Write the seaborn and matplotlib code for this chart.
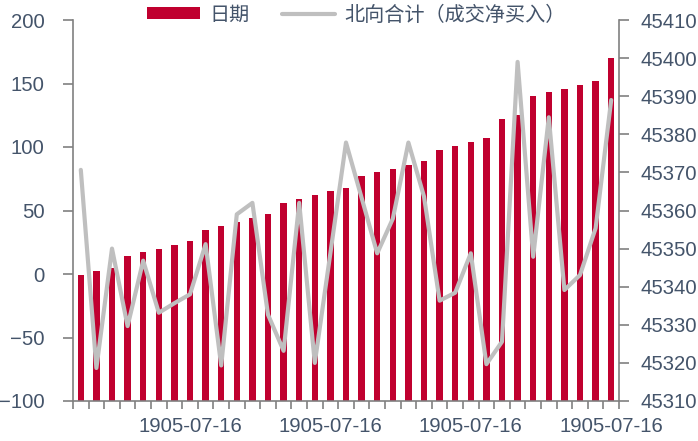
import matplotlib
matplotlib.use("Agg")
import matplotlib.pyplot as plt
import seaborn as sns
import pandas as pd
import numpy as np
from matplotlib.patches import Patch
from matplotlib.lines import Line2D
from matplotlib.ticker import FuncFormatter

# ---- data ----
dates = [45343, 45344, 45345, 45348, 45349, 45350, 45351, 45352, 45355, 45356,
         45357, 45358, 45359, 45362, 45363, 45364, 45365, 45366, 45369, 45370,
         45371, 45372, 45373, 45376, 45377, 45378, 45379, 45384, 45385, 45390,
         45391, 45392, 45393, 45394, 45400]
northbound = [82, -74, 20, -41, 10.5, -30.5, -23, -16, 23.5, -72,
              47, 56, -32, -60.5, 56, -70, 16.5, 103.5, 60, 16.3,
              43.5, 103.5, 61, -21, -14.7, 16.3, -71, -53.3, 167, 13.6,
              123.4, -12.6, -0.8, 36, 137]
label_positions = [7, 16, 25, 34]
label_texts = ["1905-07-16", "1905-07-16", "1905-07-16", "1905-07-16"]
bar_label = "日期"
line_label = "北向合计（成交净买入）"
left_ticks = [-100, -50, 0, 50, 100, 150, 200]
right_ticks = [45310, 45320, 45330, 45340, 45350, 45360, 45370, 45380, 45390, 45400, 45410]

RED = "#C0002F"
GRAY = "#BFBFBF"
TEXT = "#44546A"
SPINE = "#808080"
FS = 14.6

sns.set_style("white")
plt.rcParams['font.family'] = ['Liberation Sans', 'Noto Sans CJK SC', 'DejaVu Sans']

n = len(dates)
df = pd.DataFrame({"idx": np.arange(n), "date": dates, "flow": northbound})

fig = plt.figure(figsize=(6.98, 4.41), dpi=100)
ax = fig.add_axes([73/698, 1 - 401/441, (619 - 73)/698, (401 - 20)/441])
ax2 = ax.twinx()

sns.barplot(data=df, x="idx", y="date", ax=ax2, color=RED, saturation=1,
            width=0.42, linewidth=0, edgecolor="none")
sns.lineplot(data=df, x="idx", y="flow", ax=ax, color=GRAY, lw=3)

ax.set_zorder(ax2.get_zorder() + 1)
ax.patch.set_visible(False)

ax.set_xlim(-0.5, n - 0.5)
ax.set_ylim(-100, 200)
ax2.set_ylim(45310, 45410)
ax.set_yticks(left_ticks)
ax2.set_yticks(right_ticks)
ax2.yaxis.set_major_formatter(FuncFormatter(lambda v, p: f"{v:.0f}"))
ax.set_xlabel(""); ax.set_ylabel(""); ax2.set_ylabel(""); ax2.set_xlabel("")

# x ticks: boundaries as major ticks, labels as minor
ax.set_xticks(np.arange(-0.5, n, 1))
ax.set_xticks(label_positions, minor=True)
ax.set_xticklabels(label_texts, minor=True)
ax.tick_params(axis='x', which='major', bottom=True, length=6, width=1.2,
               color=SPINE, labelbottom=False, direction='out')
ax.tick_params(axis='x', which='minor', bottom=True, length=0, pad=11.5,
               labelsize=FS, labelcolor=TEXT, labelbottom=True)

ax.tick_params(axis='y', left=True, right=False, length=7, width=1.2, color=SPINE,
               labelsize=FS, labelcolor=TEXT, pad=13.5, direction='out')
ax2.tick_params(axis='y', right=True, left=False, length=7, width=1.2, color=SPINE,
                labelsize=FS, labelcolor=TEXT, pad=8.5, direction='out')

for s in ["top", "right"]:
    ax.spines[s].set_visible(False)
for s in ["left", "bottom"]:
    ax.spines[s].set_color(SPINE); ax.spines[s].set_linewidth(1.2)
for s in ["top", "left", "bottom"]:
    ax2.spines[s].set_visible(False)
ax2.spines["right"].set_color(SPINE); ax2.spines["right"].set_linewidth(1.2)

handles = [Patch(facecolor=RED, edgecolor="none", label=bar_label),
           Line2D([], [], color=GRAY, lw=3, label=line_label)]
fig.legend(handles=handles, loc='center left', bbox_to_anchor=(147/698, 1 - 15/441),
           ncol=2, frameon=False, prop={'family': ['Noto Sans CJK SC', 'DejaVu Sans'], 'size': 14.5},
           handlelength=2.65, handleheight=0.53, handletextpad=0.45, columnspacing=1.6,
           borderpad=0, borderaxespad=0, labelcolor=TEXT)

fig.savefig("out.png", dpi=100)
